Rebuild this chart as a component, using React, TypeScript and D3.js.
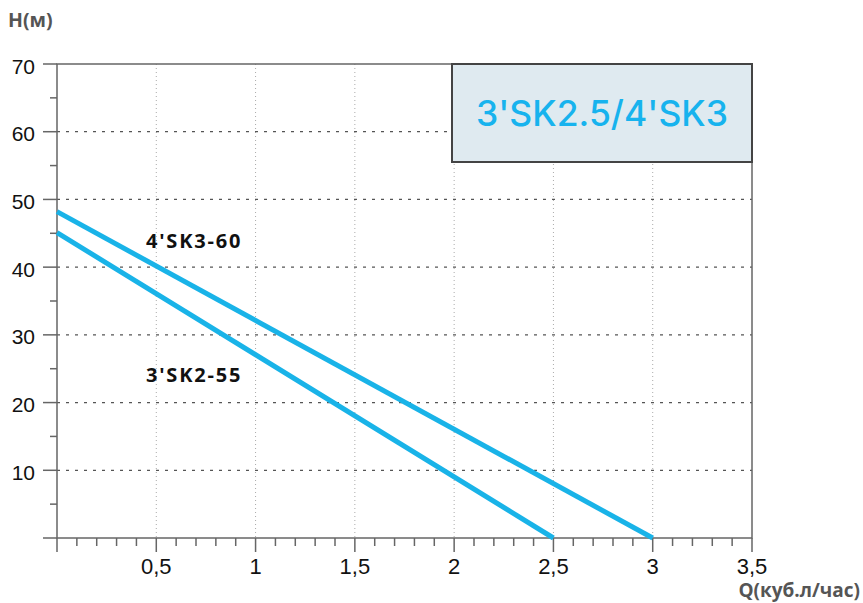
import React from "react";
import * as d3 from "d3";

const xTicks = [0.5, 1, 1.5, 2, 2.5, 3, 3.5];
const xTickLabels = ["0,5", "1", "1,5", "2", "2,5", "3", "3,5"];
const yTicks = [10, 20, 30, 40, 50, 60, 70];
const seriesNames = ["4'SK3-60", "3'SK2-55"];
const seriesQ = [
  [0, 3],
  [0, 2.5],
];
const seriesH = [
  [48.2, 0],
  [45.1, 0],
];
const title = "3'SK2.5/4'SK3";

const W = 863;
const H = 603;
const left = 57;
const right = 752;
const top = 64;
const bottom = 538;

export default function App() {
  const x = d3.scaleLinear().domain([0, 3.5]).range([left, right]);
  const y = d3.scaleLinear().domain([0, 70]).range([bottom, top]);
  const line = d3
    .line<[number, number]>()
    .x((d) => x(d[0]))
    .y((d) => y(d[1]));
  const minorX = d3.range(0, 36).map((i) => i / 10);
  const minorY = d3.range(0, 15).map((i) => i * 5);
  const tickFont = "'Liberation Sans', Arial, sans-serif";
  const titleFont = "Inter, 'Open Sans', sans-serif";
  const boldFont = "'Open Sans', 'DejaVu Sans', sans-serif";
  const axisColor = "#666";

  return (
    <svg
      width={W}
      height={H}
      style={{ position: "absolute", left: 0, top: 0, background: "#fff" }}
    >
      {xTicks.slice(0, -1).map((t) => (
        <line
          key={"vg" + t}
          x1={x(t)}
          x2={x(t)}
          y1={top}
          y2={bottom}
          stroke="#aaa"
          strokeWidth={1}
          strokeDasharray="1 3"
        />
      ))}
      {yTicks.slice(0, -1).map((t) => (
        <line
          key={"hg" + t}
          x1={left}
          x2={right}
          y1={y(t)}
          y2={y(t)}
          stroke="#555"
          strokeWidth={1.2}
          strokeDasharray="3 6"
        />
      ))}
      <rect
        x={left}
        y={top}
        width={right - left}
        height={bottom - top}
        fill="none"
        stroke={axisColor}
        strokeWidth={1.5}
      />
      {minorY.map((t) => (
        <line
          key={"yt" + t}
          x1={t % 10 === 0 ? 43 : 50}
          x2={left}
          y1={y(t)}
          y2={y(t)}
          stroke={axisColor}
          strokeWidth={1.5}
        />
      ))}
      {yTicks.map((t) => (
        <text
          key={"yl" + t}
          x={35}
          y={y(t) + 9.5}
          textAnchor="end"
          fontFamily={tickFont}
          fontSize={21}
          fill="#111"
        >
          {t}
        </text>
      ))}
      {minorX.map((t, i) => (
        <line
          key={"xt" + i}
          x1={x(t)}
          x2={x(t)}
          y1={bottom}
          y2={bottom + (i % 5 === 0 ? 14 : 8)}
          stroke={axisColor}
          strokeWidth={1.5}
        />
      ))}
      {xTicks.map((t, i) => (
        <text
          key={"xl" + t}
          x={x(t)}
          y={574}
          textAnchor="middle"
          fontFamily={tickFont}
          fontSize={22}
          fill="#111"
        >
          {xTickLabels[i]}
        </text>
      ))}
      {seriesQ.map((qs, si) => (
        <path
          key={"s" + si}
          d={line(qs.map((q, j) => [q, seriesH[si][j]]) as [number, number][]) || ""}
          fill="none"
          stroke="#19b3e8"
          strokeWidth={5}
        />
      ))}
      <text x={146} y={248} fontFamily={boldFont} fontWeight="bold" fontSize={20} letterSpacing={1.8} fill="#111">
        {seriesNames[0]}
      </text>
      <text x={146} y={382} fontFamily={boldFont} fontWeight="bold" fontSize={20} letterSpacing={1.8} fill="#111">
        {seriesNames[1]}
      </text>
      <rect x={452} y={64} width={300} height={98} fill="#dfeaf0" stroke="#444" strokeWidth={2} />
      <text
        x={602}
        y={126}
        textAnchor="middle"
        fontFamily={titleFont}
        fontWeight={500}
        fontSize={35.5}
        fill="#17b3ee"
      >
        {title}
      </text>
      <text x={8} y={27} fontFamily={boldFont} fontWeight="bold" fontSize={19.5} fill="#555">
        H(м)
      </text>
      <text x={860} y={597} textAnchor="end" fontFamily={boldFont} fontWeight="bold" fontSize={19} fill="#555">
        Q(куб.л/час)
      </text>
    </svg>
  );
}
